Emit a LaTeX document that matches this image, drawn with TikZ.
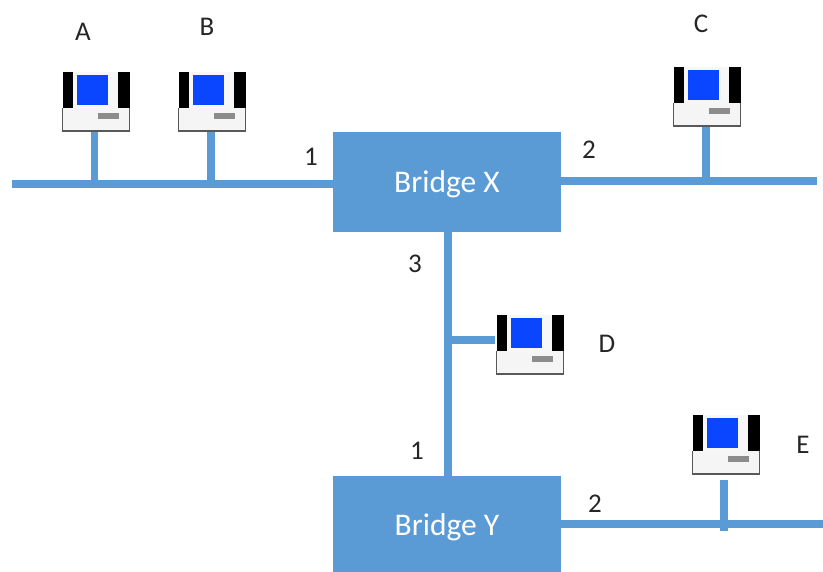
\documentclass[tikz,border=0pt]{standalone}
\usepackage{fontspec}
\setmainfont{Carlito}
\definecolor{busblue}{HTML}{5B9BD5}
\definecolor{screenblue}{HTML}{0A45FF}
\definecolor{labelgrey}{HTML}{262626}
\tikzset{
  x=1pt,y=-1pt,
  bus/.style={draw=busblue,line width=7.5pt},
  bridgebox/.style={fill=busblue,draw=none,minimum width=228pt,inner sep=0pt},
  bridgetext/.style={text=white,inner sep=0pt,font=\fontsize{31.5}{35}\selectfont},
  lbl/.style={text=labelgrey,inner sep=0pt,font=\fontsize{27}{31}\selectfont},
  computer/.pic={
    \node[draw=none,minimum width=70pt,minimum height=60pt,inner sep=0pt,anchor=north west] (-box) at (0,0) {};
    \fill[black!3] (3,0) rectangle (69,36);
    \fill[black!4] (1,36) rectangle (69,60);
    \draw[black!65,line width=1.8pt] (1.5,36) -- (1.5,59.2) -- (68.5,59.2) -- (68.5,36);
    \fill[black] (2,0) rectangle (12,36);
    \fill[black] (57,0) rectangle (69,36);
    \fill[screenblue] (16,3) rectangle (47,33);
    \fill[black!45] (37,41) rectangle (58,47);
  }
}
\begin{document}
\begin{tikzpicture}
\useasboundingbox (0,0) rectangle (823,572);
\clip (0,0) rectangle (823,572);
\node[bridgebox,minimum height=100pt] (X) at (447,182) {};
\node[bridgebox,minimum height=96pt] (Y) at (447,524) {};
\node[bridgetext] (tx) at (447,184) {Bridge X};
\node[bridgetext] (ty) at (447,527) {Bridge Y};
\pic (pcA) at (61,72) {computer};
\pic (pcB) at (177,72) {computer};
\pic (pcC) at (672,67) {computer};
\pic (pcD) at (495,315) {computer};
\pic (pcE) at (691,415) {computer};
\coordinate (leftend) at (12,184);
\coordinate (rightend) at (817,181);
\coordinate (rightendY) at (823,524);
\coordinate (tapA) at (94.5,187);
\coordinate (tapB) at (211,187);
\coordinate (tapC) at (706,184);
\coordinate (tapD) at (448,340);
\coordinate (tapV) at (448,300);
\coordinate (tapE) at (724,531);
\coordinate (topE) at (724,480);
\draw[bus] (leftend) -- (X.west |- leftend);
\draw[bus] (X.east |- rightend) -- (rightend);
\draw[bus] (tapV |- X.south) -- (tapV |- Y.north);
\draw[bus] (Y.east) -- (rightendY);
\draw[bus] (tapA |- pcA-box.south) -- (tapA);
\draw[bus] (tapB |- pcB-box.south) -- (tapB);
\draw[bus] (tapC |- pcC-box.south) -- (tapC);
\draw[bus] (tapD) -- (tapD -| pcD-box.west);
\draw[bus] (topE) -- (tapE);
\node[lbl] (la) at (83,32) {A};
\node[lbl] (lb) at (207,27) {B};
\node[lbl] (lc) at (701,24) {C};
\node[lbl] (ld) at (607,344) {D};
\node[lbl] (le) at (803,445) {E};
\node[lbl] (p1) at (311,157) {1};
\node[lbl] (p2) at (589,150) {2};
\node[lbl] (p3) at (415,264) {3};
\node[lbl] (p4) at (417,451) {1};
\node[lbl] (p5) at (595,504) {2};
\end{tikzpicture}
\end{document}
